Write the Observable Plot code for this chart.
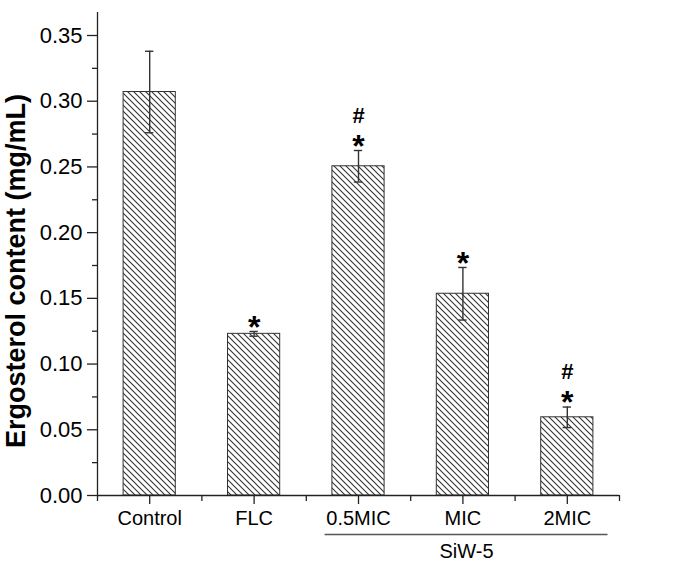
<!DOCTYPE html>
<html><head><meta charset="utf-8">
<script src="https://cdn.jsdelivr.net/npm/d3@7"></script>
<script src="https://cdn.jsdelivr.net/npm/@observablehq/plot@0.6"></script>
<style>
body{margin:0;background:#fff}
#chart svg{font-family:"Liberation Sans",Arial,sans-serif;}
</style>
</head><body><div id="chart"></div>
<script>
// ---- data ----
const categories = ["Control", "FLC", "0.5MIC", "MIC", "2MIC"];
const means = [0.307, 0.123, 0.2505, 0.1535, 0.0595];
const errors = [0.031, 0.0018, 0.012, 0.020, 0.0078];
const stars = ["", "*", "*", "*", "*"];
const hashes = ["", "", "#", "", "#"];
const yTicks = [0, 0.05, 0.10, 0.15, 0.20, 0.25, 0.30, 0.35];
const yMinorTicks = [0.025, 0.075, 0.125, 0.175, 0.225, 0.275, 0.325];
const yMax = 0.3675;
const yTitle = "Ergosterol content (mg/mL)";
const groupLabels = ["SiW-5"];
const groupFrom = ["0.5MIC"];
const groupTo = ["2MIC"];

// ---- build ----
const rows = categories.map((c, i) => ({c, i, v: means[i], e: errors[i], star: stars[i], hash: hashes[i]}));
const groups = groupLabels.map((g, k) => ({
  label: g,
  x1: categories.indexOf(groupFrom[k]) - 0.32,
  x2: categories.indexOf(groupTo[k]) + 0.39
}));
const idx = categories.map((_, i) => i);
const minorX = d3.range(categories.length + 1).map(i => i - 0.5);
const ink = "#222";

const chart = Plot.plot({
  width: 685,
  height: 564,
  marginLeft: 97,
  marginRight: 66,
  marginTop: 12,
  marginBottom: 69,
  style: {background: "#fff", color: ink, fontFamily: "'Liberation Sans', Arial, sans-serif", overflow: "visible"},
  x: {type: "linear", domain: [-0.5, categories.length - 0.5]},
  y: {domain: [0, yMax]},
  marks: [
    Plot.rectY(rows, {x1: d => d.i - 0.25, x2: d => d.i + 0.25, y1: 0, y2: "v", fill: "url(#hatch)", stroke: "#333", strokeWidth: 1}),
    Plot.ruleX(rows, {x: "i", y1: d => d.v - d.e, y2: d => d.v + d.e, stroke: "#333", strokeWidth: 1.4}),
    Plot.ruleY(rows, {y: d => d.v + d.e, x1: d => d.i - 0.04, x2: d => d.i + 0.04, stroke: "#333", strokeWidth: 1.4}),
    Plot.ruleY(rows, {y: d => d.v - d.e, x1: d => d.i - 0.04, x2: d => d.i + 0.04, stroke: "#333", strokeWidth: 1.4}),
    Plot.text(rows.filter(d => d.star), {x: "i", y: d => d.v + d.e, text: "star", dy: -4, fontSize: 32, fontWeight: "bold", fill: "#000"}),
    Plot.text(rows.filter(d => d.hash), {x: "i", y: d => d.v + d.e, text: "hash", dy: -35, fontSize: 22, fontWeight: "bold", fill: "#000"}),
    // axes lines
    Plot.ruleX([-0.5], {stroke: ink, strokeWidth: 1.3}),
    Plot.ruleY([0], {stroke: ink, strokeWidth: 1.3}),
    Plot.axisY({ticks: yTicks, tickFormat: d3.format(".2f"), tickSize: 10, tickPadding: 5, fontSize: 22, label: null, stroke: ink, strokeWidth: 1.3, fill: "#000"}),
    Plot.axisY({ticks: yMinorTicks, tickFormat: () => "", tickSize: 5, label: null, stroke: ink, strokeWidth: 1.3}),
    Plot.axisX({ticks: idx, tickFormat: i => categories[i], tickSize: 9, tickPadding: 6, fontSize: 20, label: null, stroke: ink, strokeWidth: 1.3, fill: "#000"}),
    Plot.axisX({ticks: minorX, tickFormat: () => "", tickSize: 6, label: null, stroke: ink, strokeWidth: 1.3}),
    // group bracket
    Plot.ruleY(groups, {y: () => 0, x1: "x1", x2: "x2", dy: 39, stroke: "#555", strokeWidth: 1.6}),
    Plot.text(groups, {x: d => (d.x1 + d.x2) / 2, y: () => 0, text: "label", dy: 56, fontSize: 20, fill: "#000"}),
    // y title
    Plot.text([yTitle], {frameAnchor: "left", textAnchor: "middle", rotate: -90, dx: -81, dy: 17, fontSize: 27, fontWeight: "bold", fill: "#000"})
  ]
});

// hatch pattern definition
const svg = d3.select(chart);
const defs = svg.insert("defs", ":first-child");
const pat = defs.append("pattern").attr("id", "hatch").attr("patternUnits", "userSpaceOnUse").attr("width", 6).attr("height", 6);
pat.append("rect").attr("width", 6).attr("height", 6).attr("fill", "#fff");
pat.append("path").attr("d", "M-1,-1L7,7M-1,5L1,7M5,-1L7,1").attr("stroke", "#333").attr("stroke-width", 1.1);

document.getElementById("chart").appendChild(chart);
</script>
</body></html>
